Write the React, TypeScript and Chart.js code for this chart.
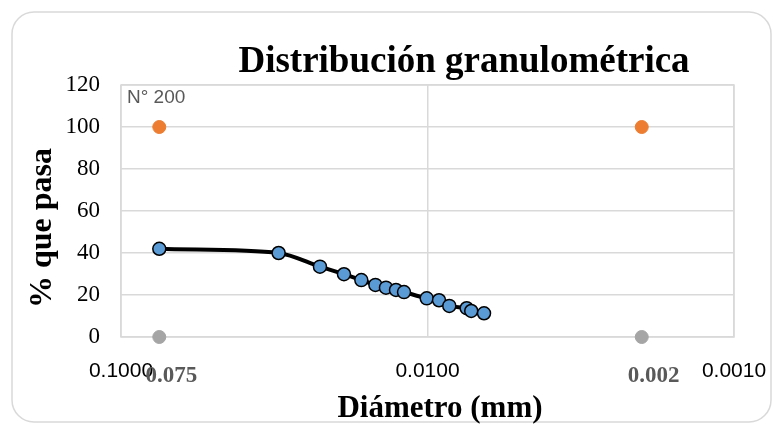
import React, { useEffect, useRef } from "react";
import { Chart, registerables } from "chart.js";

Chart.register(...registerables);

const titleText = "Distribución granulométrica";
const xTitle = "Diámetro (mm)";
const yTitle = "% que pasa";
const sieveNote = "N° 200";

const diameters = [0.075, 0.0306, 0.02243, 0.01873, 0.01644, 0.01479, 0.01366, 0.01267, 0.01193, 0.01006, 0.00917, 0.00849, 0.00745, 0.0072, 0.00654];
const percentPassing = [42, 40, 33.5, 29.9, 27.1, 24.8, 23.5, 22.4, 21.4, 18.4, 17.5, 14.8, 13.7, 12.4, 11.3];

const limitDiameters = [0.075, 0.002];
const limitLabels = ["0.075", "0.002"];
const upperLimit = [100, 100];
const lowerLimit = [0, 0];

const xTickValues = [0.1, 0.01, 0.001];
const yTickMin = 0;
const yTickMax = 120;
const yTickStep = 20;

const SERIF = "'Liberation Serif', 'Times New Roman', serif";
const SANS = "'Liberation Sans', Arial, sans-serif";

export default function App() {
  const ref = useRef<HTMLCanvasElement | null>(null);

  useEffect(() => {
    if (!ref.current) return;

    const decorPlugin = {
      id: "decor",
      beforeDraw(chart: any) {
        const ctx = chart.ctx;
        ctx.save();
        ctx.fillStyle = "#ffffff";
        ctx.fillRect(0, 0, chart.width, chart.height);
        ctx.strokeStyle = "#d9d9d9";
        ctx.lineWidth = 1.5;
        const x0 = 12, y0 = 12, x1 = chart.width - 2, y1 = chart.height - 2, r = 22;
        ctx.beginPath();
        ctx.moveTo(x0 + r, y0);
        ctx.lineTo(x1 - r, y0);
        ctx.arcTo(x1, y0, x1, y0 + r, r);
        ctx.lineTo(x1, y1 - r);
        ctx.arcTo(x1, y1, x1 - r, y1, r);
        ctx.lineTo(x0 + r, y1);
        ctx.arcTo(x0, y1, x0, y1 - r, r);
        ctx.lineTo(x0, y0 + r);
        ctx.arcTo(x0, y0, x0 + r, y0, r);
        ctx.closePath();
        ctx.stroke();
        ctx.restore();
      },
      beforeDatasetsDraw(chart: any) {
        const ctx = chart.ctx;
        const a = chart.chartArea;
        ctx.save();
        ctx.strokeStyle = "#d9d9d9";
        ctx.lineWidth = 1.5;
        ctx.strokeRect(a.left, a.top, a.right - a.left, a.bottom - a.top);
        ctx.restore();
      },
      afterDraw(chart: any) {
        const ctx = chart.ctx;
        const a = chart.chartArea;
        const xs = chart.scales.x;
        ctx.save();
        ctx.fillStyle = "#000000";
        ctx.font = `bold 37px ${SERIF}`;
        ctx.textAlign = "center";
        ctx.textBaseline = "alphabetic";
        ctx.fillText(titleText, 464, 72);
        ctx.font = `bold 31px ${SERIF}`;
        ctx.fillText(xTitle, 440, 417);
        ctx.save();
        ctx.translate(51, 228);
        ctx.rotate(-Math.PI / 2);
        ctx.font = `bold 32px ${SERIF}`;
        ctx.fillText(yTitle, 0, 0);
        ctx.restore();
        ctx.fillStyle = "#595959";
        ctx.font = `19px ${SANS}`;
        ctx.textAlign = "left";
        ctx.fillText(sieveNote, a.left + 6, a.top + 18);
        ctx.font = `bold 23px ${SERIF}`;
        ctx.textAlign = "center";
        limitDiameters.forEach((d, i) => {
          ctx.fillText(limitLabels[i], xs.getPixelForValue(d) + 12, 382);
        });
        ctx.restore();
      },
    };

    const chart = new Chart(ref.current, {
      type: "scatter",
      data: {
        datasets: [
          {
            label: "Curva",
            data: diameters.map((d, i) => ({ x: d, y: percentPassing[i] })),
            showLine: true,
            borderColor: "#000000",
            borderWidth: 4,
            tension: 0.3,
            pointBackgroundColor: "#5b9bd5",
            pointBorderColor: "#000000",
            pointBorderWidth: 1.5,
            pointRadius: 6.5,
            clip: false,
            order: 0,
          },
          {
            label: "Superior",
            data: limitDiameters.map((d, i) => ({ x: d, y: upperLimit[i] })),
            pointBackgroundColor: "#ed7d31",
            pointBorderColor: "#ed7d31",
            pointRadius: 6.5,
            clip: false,
            order: 1,
          },
          {
            label: "Inferior",
            data: limitDiameters.map((d, i) => ({ x: d, y: lowerLimit[i] })),
            pointBackgroundColor: "#a5a5a5",
            pointBorderColor: "#a5a5a5",
            pointRadius: 6.5,
            clip: false,
            order: 1,
          },
        ],
      },
      options: {
        animation: false,
        responsive: false,
        devicePixelRatio: 1,
        layout: { padding: { top: 85, right: 39, left: 0, bottom: 0 } },
        plugins: {
          legend: { display: false },
          title: { display: false },
          tooltip: { enabled: false },
        },
        scales: {
          x: {
            type: "logarithmic",
            reverse: true,
            min: 0.001,
            max: 0.1,
            afterBuildTicks: (scale: any) => {
              scale.ticks = xTickValues.map((v) => ({ value: v }));
            },
            afterFit: (scale: any) => {
              scale.height = 87;
              scale.paddingLeft = 0;
              scale.paddingRight = 0;
            },
            grid: { color: "#d9d9d9", lineWidth: 1.5, drawTicks: false },
            border: { display: false },
            ticks: {
              autoSkip: false,
              maxRotation: 0,
              padding: 22,
              color: "#000000",
              font: { family: SANS, size: 21 },
              callback: (v: any) => Number(v).toFixed(4),
            },
          },
          y: {
            min: yTickMin,
            max: yTickMax,
            afterFit: (scale: any) => {
              scale.width = 121;
              scale.paddingTop = 0;
              scale.paddingBottom = 0;
            },
            grid: { color: "#d9d9d9", lineWidth: 1.5, drawTicks: false },
            border: { display: false },
            ticks: {
              stepSize: yTickStep,
              padding: 21,
              color: "#000000",
              font: { family: SERIF, size: 23 },
            },
          },
        },
      },
      plugins: [decorPlugin],
    } as any);

    return () => chart.destroy();
  }, []);

  return (
    <canvas
      ref={ref}
      width={773}
      height={424}
      style={{ position: "absolute", left: 0, top: 0, display: "block", width: 773, height: 424 }}
    />
  );
}
